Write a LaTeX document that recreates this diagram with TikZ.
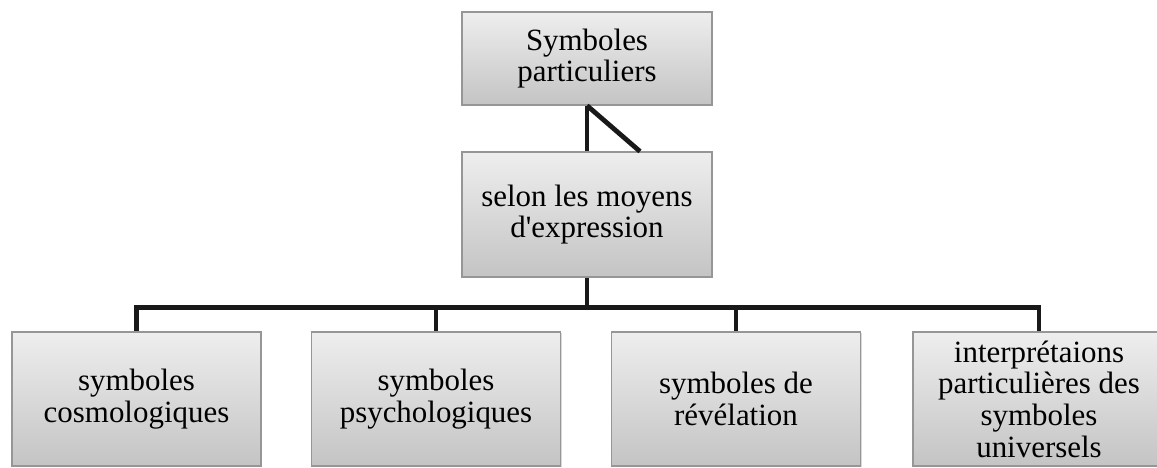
\documentclass[tikz,border=0pt]{standalone}
\usepackage{fontspec}
\setmainfont{Liberation Serif}
\usepackage{xcolor}
\usepackage{tikz}
\usetikzlibrary{positioning,shadows}

\definecolor{boxtop}{RGB}{238,238,238}
\definecolor{boxbot}{RGB}{196,196,196}
\definecolor{boxline}{RGB}{150,150,150}

\begin{document}
\begin{tikzpicture}[
    blk/.style={draw=boxline, line width=0.8pt, top color=boxtop, bottom color=boxbot,
                align=center, font=\fontsize{22}{22.5}\selectfont, inner sep=0pt,
                drop shadow={shadow xshift=0.8pt, shadow yshift=-0.8pt, opacity=0.3}},
    head/.style={blk, minimum width=6.25cm, minimum height=2.325cm},
    mid/.style={blk, minimum width=6.25cm, minimum height=3.125cm},
    leaf/.style={blk, minimum width=6.225cm, minimum height=3.35cm},
    link/.style={line width=3.4pt, black!90}
  ]
  \useasboundingbox (0,0) rectangle (28.925,-11.7);

  % ---------------- Upper part ----------------
  \node[head] (sp)  at (14.675,-1.4625) {Symboles\\particuliers};
  \node[mid]  (exp) at (14.675,-5.3625) {selon les moyens\\d\textquotesingle expression};
  \coordinate (diag) at ([xshift=1.325cm]exp.north);
  \draw[link] (sp.south) -- (exp.north);
  \draw[link] (sp.south) -- (diag);

  % ---------------- Leaves ----------------
  \node[leaf] (cos) at (3.4125,-9.975) {symboles\\cosmologiques};
  \node[leaf] (psy) at (10.9,-9.975)   {symboles\\psychologiques};
  \node[leaf] (rev) at (18.4,-9.975)   {symboles de\\révélation};
  \node[leaf, minimum width=6.3cm] (uni) at (25.975,-9.975)
    {interprétaions\\particulières des\\symboles\\universels};

  \coordinate (bus) at ([yshift=-0.75cm]exp.south);
  \draw[link] (exp.south) -- (bus);
  \foreach \leafname in {cos,psy,rev,uni}
    \draw[link] (bus) -| (\leafname.north);
\end{tikzpicture}
\end{document}
